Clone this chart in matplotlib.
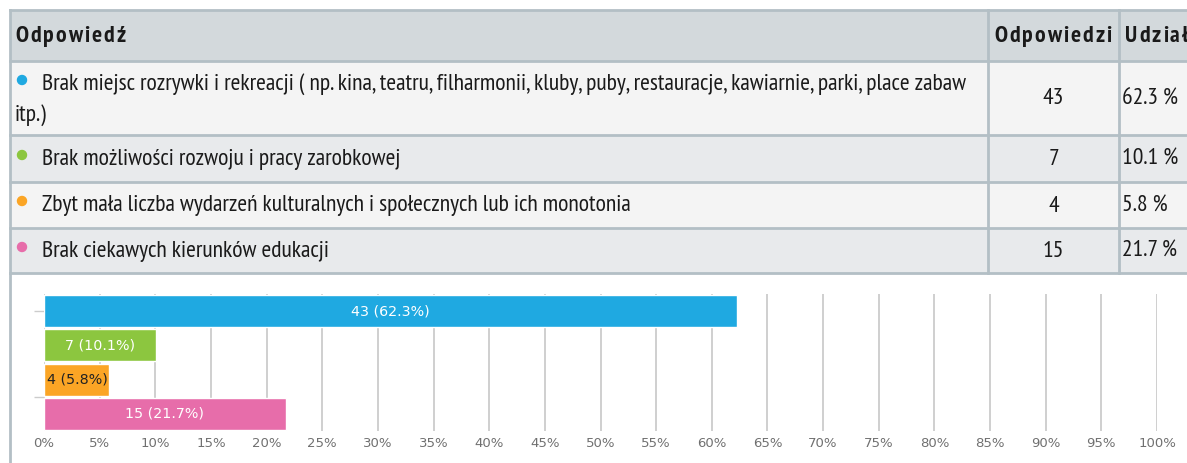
import matplotlib

matplotlib.use("Agg")
import matplotlib.pyplot as plt
from matplotlib.patches import Rectangle, Circle

W, H = 1187, 463

answers = [
    "Brak miejsc rozrywki i rekreacji ( np. kina, teatru, filharmonii, kluby, puby, restauracje, kawiarnie, parki, place zabaw\nitp.)",
    "Brak możliwości rozwoju i pracy zarobkowej",
    "Zbyt mała liczba wydarzeń kulturalnych i społecznych lub ich monotonia",
    "Brak ciekawych kierunków edukacji",
]
counts = [43, 7, 4, 15]
shares = [62.3, 10.1, 5.8, 21.7]
colors = ["#1fa9e1", "#8cc63f", "#fba525", "#e76daa"]
label_colors = ["white", "white", "#222222", "white"]
headers = ["Odpowiedź", "Odpowiedzi", "Udział"]
xticks = list(range(0, 101, 5))

FONT = ["PT Sans Narrow", "Roboto Condensed", "Liberation Sans Narrow", "DejaVu Sans"]
FS = 17
BORDER = "#b3bfc5"
INK = "#1a1a1a"

fig = plt.figure(figsize=(W / 100, H / 100), dpi=100)
renderer = fig.canvas.get_renderer()

# table layer in pixel coordinates
tab = fig.add_axes([0, 0, 1, 1])
tab.set_xlim(0, W)
tab.set_ylim(H, 0)
tab.axis("off")

col_x = [10, 988, 1119, 1240]
row_y = [10, 61, 135, 182, 228, 273]
row_bg = ["#d3d9dc", "#f4f4f4", "#e8eaec", "#f4f4f4", "#e8eaec"]

for i in range(5):
    tab.add_patch(Rectangle((col_x[0], row_y[i]), col_x[-1] - col_x[0],
                            row_y[i + 1] - row_y[i], facecolor=row_bg[i],
                            edgecolor="none", zorder=1))
for y in row_y:
    tab.plot([col_x[0], col_x[-1]], [y, y], color=BORDER, lw=2, zorder=2)
for x in col_x[:-1]:
    tab.plot([x, x], [row_y[0], row_y[-1]], color=BORDER, lw=2, zorder=2)
# page frame continues below the table
tab.plot([10, 10], [row_y[-1], H], color=BORDER, lw=2, zorder=2)


def spaced_text(x, y, s, gap):
    """Bold header text with extra letter spacing, one glyph at a time."""
    for ch in s:
        t = tab.text(x, y, ch, family=FONT, weight="bold", fontsize=FS,
                     color=INK, va="center", ha="left")
        x += t.get_window_extent(renderer).width + gap


hy = (row_y[0] + row_y[1]) / 2
for x0, h in zip([15, col_x[1] + 6, col_x[2] + 6], headers):
    spaced_text(x0, hy + 1, h, 2.0)

first_line_y = [84, 159, 205, 251]
for i, (txt, n, s, c) in enumerate(zip(answers, counts, shares, colors)):
    top, bot = row_y[i + 1], row_y[i + 2]
    tab.add_patch(Circle((22, first_line_y[i] - 4), 4.5, color=c, zorder=3))
    first, *rest = txt.split("\n")
    tab.text(42, first_line_y[i], first, family=FONT, fontsize=FS,
             color=INK, va="center", ha="left")
    if rest:
        tab.text(15, first_line_y[i] + 31, rest[0], family=FONT, fontsize=FS,
                 color=INK, va="center", ha="left")
    mid = (top + bot) / 2
    tab.text((col_x[1] + col_x[2]) / 2, mid + 1, str(n), family=FONT,
             fontsize=FS, color=INK, va="center", ha="center")
    tab.text(col_x[2] + 3, mid + 1, f"{s} %", family=FONT, fontsize=FS,
             color=INK, va="center", ha="left")

# bar chart
ax = fig.add_axes([44 / W, 1 - 431 / H, (1157 - 44) / W, (431 - 294) / H])
ypos = list(range(len(shares)))
bars = ax.barh(ypos, shares, height=0.94, color=colors, edgecolor="white",
               linewidth=1, zorder=3)
ax.set_xlim(0, 100)
ax.set_ylim(len(shares) - 0.5, -0.5)
ax.set_xticks(xticks)
ax.set_xticklabels([f"{t}%" for t in xticks])
ax.tick_params(axis="x", length=0, labelsize=9.5, labelcolor="#707070", pad=4)
ax.set_yticks([0, 2.5])
ax.set_yticklabels([])
ax.tick_params(axis="y", length=7, color="#cccccc", width=1)
ax.grid(True, axis="x", color="#cfcfcf", lw=1.4, zorder=0)
for sp in ax.spines.values():
    sp.set_visible(False)

for b, n, s, lc in zip(bars, counts, shares, label_colors):
    x = b.get_width() / 2 if s > 8 else 0.25
    ha = "center" if s > 8 else "left"
    ax.text(x, b.get_y() + b.get_height() / 2, f"{n} ({s}%)", ha=ha,
            va="center", fontsize=10.3, color=lc, zorder=4)

fig.savefig("out.png", dpi=100, facecolor="white")
